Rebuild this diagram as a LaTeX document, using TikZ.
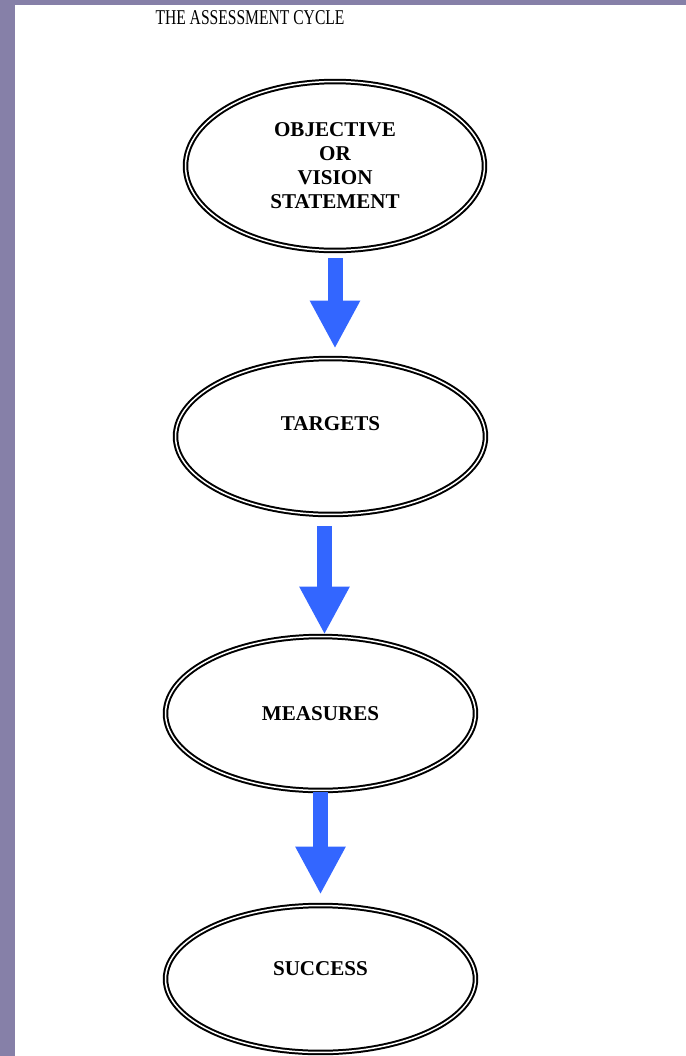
\documentclass[tikz,border=0pt]{standalone}
\usepackage{fontspec}
\setmainfont{Liberation Serif}
\usetikzlibrary{shapes.geometric,arrows.meta}
\definecolor{sidebar}{RGB}{134,128,168}
\definecolor{flowblue}{RGB}{51,102,255}
\tikzset{
    stage/.style={ellipse, draw, line width=0.04cm, double=white, double distance=0.03cm,
        align=center, inner sep=0pt, font=\bfseries\fontsize{12}{13.7}\selectfont},
    flow/.style={draw=flowblue, line width=0.3cm, -{Triangle[width=0.94cm,length=0.96cm]}}
}
\begin{document}
\begin{tikzpicture}[x=0.02cm,y=-0.02cm]
        \fill[sidebar] (0,0) rectangle (686,1056);
        \fill[white] (15,5) rectangle (686,1056);
        \useasboundingbox (0,0) rectangle (686,1056);

        \node[xscale=0.74, font=\fontsize{12}{14}\selectfont] at (250,17.5) (title) {THE ASSESSMENT CYCLE};

        \node[stage, minimum width=5.98cm, minimum height=3.38cm] at (335,166) (obj) {OBJECTIVE\\OR\\VISION\\STATEMENT};
        \node[stage, minimum width=6.2cm, minimum height=3.12cm, text depth=0.52cm] at (330.5,436.5) (tgt) {TARGETS};
        \node[stage, minimum width=6.2cm, minimum height=3.08cm] at (320.5,713.5) (meas) {MEASURES};
        \node[stage, minimum width=6.2cm, minimum height=2.94cm, text depth=0.4cm] at (320.5,979) (succ) {SUCCESS};

        \draw[flow, shorten <=0.14cm, shorten >=0.18cm] (obj.south) -- (obj.south |- tgt.north);
        \draw[flow, shorten <=0.22cm, shorten >=0.02cm] ([xshift=-0.12cm]tgt.south) -- ([xshift=-0.12cm]tgt.south |- meas.north);
        \draw[flow, shorten <=0.02cm, shorten >=0.2cm] (meas.south) -- (meas.south |- succ.north);

    \end{tikzpicture}
\end{document}
